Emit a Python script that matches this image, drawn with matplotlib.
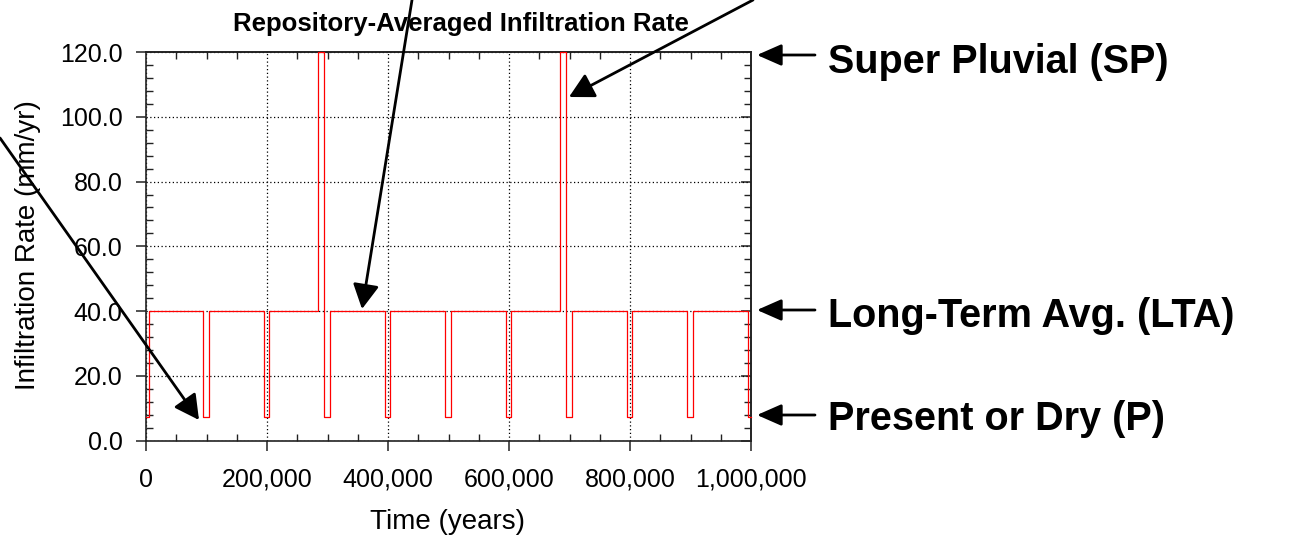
import matplotlib
matplotlib.use("Agg")
import matplotlib.pyplot as plt
from matplotlib.patches import FancyArrowPatch
from matplotlib.ticker import MultipleLocator, FuncFormatter

plt.rcParams['font.family'] = ['Liberation Sans', 'DejaVu Sans']

# ---- data ----
state_start_years = [0, 5000, 95000, 104000, 195000, 204000, 284000, 294000, 304000,
                     395000, 404000, 495000, 504000, 595000, 604000, 684000, 694000,
                     704000, 795000, 804000, 895000, 904000, 995000, 1000000]
infiltration_mm_yr = [7.2, 40.0, 7.2, 40.0, 7.2, 40.0, 120.0, 7.2, 40.0,
                      7.2, 40.0, 7.2, 40.0, 7.2, 40.0, 120.0, 7.2,
                      40.0, 7.2, 40.0, 7.2, 40.0, 7.2, 7.2]
x_ticks = [0, 200000, 400000, 600000, 800000, 1000000]
y_ticks = [0.0, 20.0, 40.0, 60.0, 80.0, 100.0, 120.0]
title_text = "Repository-Averaged Infiltration Rate"
x_label = "Time (years)"
y_label = "Infiltration Rate (mm/yr)"
state_labels = ["Super Pluvial (SP)", "Long-Term Avg. (LTA)", "Present or Dry (P)"]

W, H = 1300, 537
fig = plt.figure(figsize=(W / 100, H / 100), dpi=100)
fig.patch.set_facecolor("white")

L, R, T, B = 146, 751, 52, 440.7
ax = fig.add_axes([L / W, 1 - B / H, (R - L) / W, (B - T) / H])

ax.step(state_start_years, infiltration_mm_yr, where="post", color="#ff0000", lw=0.9,
        clip_on=False, zorder=3)

ax.set_xlim(0, 1000000)
ax.set_ylim(0, 120)
ax.set_xticks(x_ticks)
ax.set_yticks(y_ticks)
ax.xaxis.set_minor_locator(MultipleLocator(50000))
ax.yaxis.set_minor_locator(MultipleLocator(4))
ax.xaxis.set_major_formatter(FuncFormatter(lambda v, p: f"{v:,.0f}"))
ax.yaxis.set_major_formatter(FuncFormatter(lambda v, p: f"{v:.1f}"))

ax.grid(True, which="major", color="black", linestyle=(0, (1, 2)), lw=0.9, zorder=1)
for s in ax.spines.values():
    s.set_linewidth(1.2)
    s.set_color("#222222")

ax.tick_params(which="major", direction="out", length=7, width=1.1, labelsize=18,
               pad=10, colors="#222222", labelcolor="black")
ax.tick_params(which="minor", direction="in", length=5, width=1.0, colors="#222222")
ax.tick_params(axis="x", which="major", pad=12.5)

# top / right inner ticks
secx = ax.secondary_xaxis("top")
secx.set_xticks(x_ticks)
secx.xaxis.set_minor_locator(MultipleLocator(50000))
secx.tick_params(which="major", length=0, labeltop=False)
secx.tick_params(which="minor", direction="in", length=5, width=1.0, colors="#222222")
secx.set_xticklabels([])
secy = ax.secondary_yaxis("right")
secy.set_yticks(y_ticks)
secy.yaxis.set_minor_locator(MultipleLocator(4))
secy.tick_params(which="major", direction="in", length=7, width=1.1, colors="#222222")
secy.tick_params(which="minor", direction="in", length=5, width=1.0, colors="#222222")
secy.set_yticklabels([])
for sa in (secx, secy):
    for s in sa.spines.values():
        s.set_linewidth(1.2)
        s.set_color("#222222")


def fx(x, y):
    return (x / W, 1 - y / H)


fig.text(*fx(461, 24), title_text, fontsize=18.5, fontweight="bold",
         ha="center", va="center")
fig.text(*fx(447, 522), x_label, fontsize=20, ha="center", va="center")
fig.text(*fx(28, 245), y_label, fontsize=20, ha="center", va="center", rotation=90)

label_y = [62, 316, 419]
arrow_y = [55, 310, 415]
for lab, ty, ay in zip(state_labels, label_y, arrow_y):
    fig.text(*fx(828, ty), lab, fontsize=28.5, fontweight="bold", ha="left", va="center")
    fig.add_artist(FancyArrowPatch(fx(815, ay), fx(757, ay), transform=fig.transFigure,
                                   arrowstyle="-|>,head_length=0.75,head_width=0.33",
                                   mutation_scale=20, lw=2, color="black",
                                   shrinkA=0, shrinkB=0))

# pointer arrows coming from outside the figure
for (x0, y0), (x1, y1) in [((0, 138), (199, 420)),
                           ((412, 0), (362, 309)),
                           ((753, 0), (569, 97))]:
    fig.add_artist(FancyArrowPatch(fx(x0, y0), fx(x1, y1), transform=fig.transFigure,
                                   arrowstyle="-|>,head_length=0.75,head_width=0.4",
                                   mutation_scale=20, lw=2, color="black",
                                   shrinkA=0, shrinkB=0, zorder=5))

fig.savefig("out.png", dpi=100)
